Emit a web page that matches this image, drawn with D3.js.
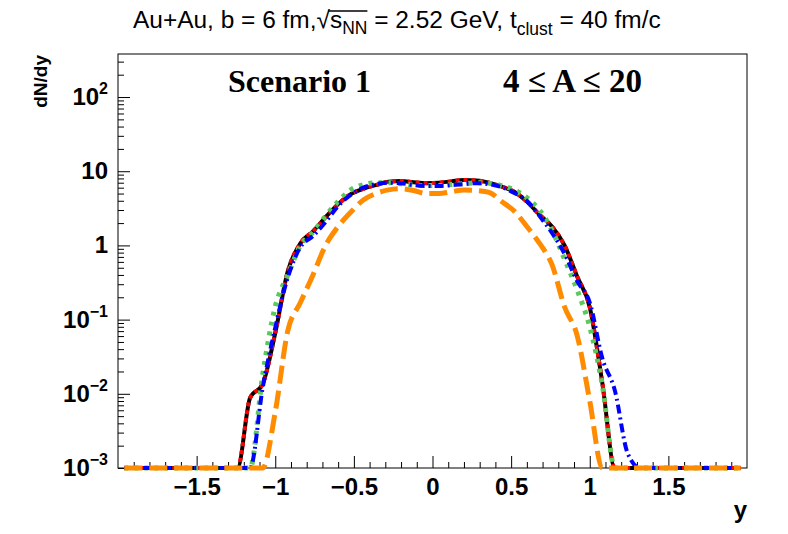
<!DOCTYPE html>
<html>
<head>
<meta charset="utf-8">
<script src="https://cdn.jsdelivr.net/npm/d3@7"></script>
<style>
    body { margin: 0; background: #fff; }
    svg { display: block; }
</style>
</head>
<body>
<svg id="chart" width="788" height="534"></svg>
<script>
// bin centres in rapidity
var rapidity = [-1.96, -1.88, -1.80, -1.72, -1.64, -1.56, -1.48, -1.40, -1.32, -1.24,
    -1.16, -1.08, -1.00, -0.92, -0.84, -0.76, -0.68, -0.60, -0.52, -0.44,
    -0.36, -0.28, -0.20, -0.12, -0.04, 0.04, 0.12, 0.20, 0.28, 0.36,
    0.44, 0.52, 0.60, 0.68, 0.76, 0.84, 0.92, 1.00, 1.08, 1.16,
    1.24, 1.32, 1.40, 1.48, 1.56, 1.64, 1.72, 1.80, 1.88, 1.96];

var blackValues = [0, 0, 0, 0, 0, 0, 0, 0, 0, 0,
    0.0088, 0.0136, 0.066, 0.45, 1.07, 1.55, 2.4, 3.6, 4.9, 5.8,
    6.5, 7.2, 7.4, 7.1, 6.9, 7.0, 7.3, 7.6, 7.5, 7.0,
    6.2, 5.3, 3.9, 2.6, 1.8, 1.0, 0.38, 0.147, 0.014, 0,
    0, 0, 0, 0, 0, 0, 0, 0, 0, 0];

var redValues = [0, 0, 0, 0, 0, 0, 0, 0, 0, 0,
    0.0088, 0.0136, 0.066, 0.45, 1.07, 1.55, 2.4, 3.6, 4.9, 5.8,
    6.5, 7.2, 7.4, 7.1, 6.9, 7.0, 7.3, 7.6, 7.5, 7.0,
    6.2, 5.3, 3.9, 2.6, 1.8, 1.0, 0.38, 0.147, 0.014, 0,
    0, 0, 0, 0, 0, 0, 0, 0, 0, 0];

var greenValues = [0, 0, 0, 0, 0, 0, 0, 0, 0, 0,
    0, 0.018, 0.15, 0.40, 1.0, 1.5, 2.5, 3.9, 5.6, 6.6,
    7.0, 7.0, 6.8, 6.5, 6.4, 6.4, 6.6, 6.8, 7.0, 6.9,
    6.4, 5.6, 4.4, 3.0, 1.6, 0.65, 0.25, 0.08, 0.013, 0,
    0, 0, 0, 0, 0, 0, 0, 0, 0, 0];

var blueValues = [0, 0, 0, 0, 0, 0, 0, 0, 0, 0,
    0, 0.012, 0.078, 0.37, 0.95, 1.34, 2.07, 3.4, 4.8, 6.0,
    6.7, 7.0, 6.9, 6.5, 6.3, 6.3, 6.5, 6.7, 6.9, 6.7,
    6.1, 5.1, 4.0, 2.5, 1.47, 0.77, 0.33, 0.17, 0.030, 0.011,
    0.0016, 0, 0, 0, 0, 0, 0, 0, 0, 0];

var orangeValues = [0, 0, 0, 0, 0, 0, 0, 0, 0, 0,
    0, 0, 0.0057, 0.071, 0.17, 0.4, 1.0, 1.8, 2.8, 4.1,
    5.0, 5.6, 5.8, 5.5, 5.0, 5.0, 5.3, 5.6, 5.5, 5.2,
    3.9, 2.9, 1.8, 1.07, 0.55, 0.148, 0.061, 0.008, 0, 0,
    0, 0, 0, 0, 0, 0, 0, 0, 0, 0];

var xTickValues = [-1.5, -1, -0.5, 0, 0.5, 1, 1.5];
var yTickValues = [1e-3, 1e-2, 1e-1, 1, 10, 100];
var yTickLabels = [["10", "\u22123"], ["10", "\u22122"], ["10", "\u22121"], ["1", ""], ["10", ""], ["10", "2"]];

var margin = { left: 118, right: 747, top: 54, bottom: 468 };
var yMin = 1e-3, yMax = Math.pow(10, 2.58);

var svg = d3.select("#chart");

var x = d3.scaleLinear().domain([-2, 2]).range([margin.left, margin.right]);
var y = d3.scaleLog().domain([yMin, yMax]).range([margin.bottom, margin.top]);

// minor ticks
var xMinor = d3.range(-20, 21).map(function(i) { return i / 10; })
    .filter(function(v) { return xTickValues.indexOf(v) < 0 && Math.abs(v) < 2; });
var yMinor = [];
[-3, -2, -1, 0, 1, 2].forEach(function(e) {
    for (var k = 2; k <= 9; k++) {
        var v = k * Math.pow(10, e);
        if (v <= yMax) yMinor.push(v);
    }
});

var sansBold = "'Liberation Sans', Arial, Helvetica, sans-serif";

svg.append("g")
    .attr("transform", "translate(0," + margin.bottom + ")")
    .call(d3.axisBottom(x).tickValues(xMinor).tickSize(-6).tickFormat(""))
    .call(function(g) { g.select(".domain").remove(); });

svg.append("g")
    .attr("class", "x-major")
    .attr("transform", "translate(0," + margin.bottom + ")")
    .call(d3.axisBottom(x).tickValues(xTickValues).tickSize(-12).tickPadding(10)
        .tickFormat(function(d) { return d3.format("")(d).replace("-", "\u2013"); }))
    .call(function(g) { g.select(".domain").remove(); })
    .selectAll("text")
    .attr("fill", "#000")
    .style("font-family", sansBold)
    .style("font-weight", "bold")
    .style("font-size", "24px");

svg.append("g")
    .attr("transform", "translate(" + margin.left + ",0)")
    .call(d3.axisLeft(y).tickValues(yMinor).tickSize(-6).tickFormat(""))
    .call(function(g) { g.select(".domain").remove(); });

svg.append("g")
    .attr("transform", "translate(" + margin.left + ",0)")
    .call(d3.axisLeft(y).tickValues(yTickValues).tickSize(-12).tickFormat(""))
    .call(function(g) { g.select(".domain").remove(); });

svg.selectAll(".tick line").attr("stroke", "#000").attr("stroke-width", 1);

// y labels with superscripts
var yLab = svg.append("g").selectAll("text")
    .data(yTickValues)
    .enter().append("text")
    .attr("x", 108)
    .attr("y", function(d) { return y(d) + 8; })
    .attr("text-anchor", "end")
    .style("font-family", sansBold)
    .style("font-weight", "bold")
    .style("font-size", "24px");
yLab.append("tspan").text(function(d, i) { return yTickLabels[i][0]; });
yLab.append("tspan")
    .attr("dy", -11)
    .style("font-size", "16px")
    .text(function(d, i) { return yTickLabels[i][1]; });

// frame
svg.append("rect")
    .attr("x", margin.left).attr("y", margin.top)
    .attr("width", margin.right - margin.left)
    .attr("height", margin.bottom - margin.top)
    .attr("fill", "none").attr("stroke", "#000").attr("stroke-width", 1);

var line = d3.line()
    .x(function(d) { return x(d[0]); })
    .y(function(d) { return y(Math.max(d[1], yMin)); })
    .curve(d3.curveMonotoneX);

function series(values) {
    return rapidity.map(function(r, i) { return [r, values[i]]; });
}

var curves = [
    { values: blackValues, color: "#000000", width: 4, dash: null },
    { values: redValues, color: "#ff0000", width: 4, dash: "4,4" },
    { values: greenValues, color: "#5ac85a", width: 5, dash: "4,6" },
    { values: blueValues, color: "#0000ff", width: 4, dash: "9,4,2,4" },
    { values: orangeValues, color: "#ff8c00", width: 5, dash: "18,7" }
];

svg.append("g").selectAll("path")
    .data(curves)
    .enter().append("path")
    .attr("d", function(c) { return line(series(c.values)); })
    .attr("fill", "none")
    .attr("stroke", function(c) { return c.color; })
    .attr("stroke-width", function(c) { return c.width; })
    .attr("stroke-dasharray", function(c) { return c.dash; });

// title, font size fitted to the width of the original title
var title = svg.append("text")
    .attr("x", 133).attr("y", 28)
    .style("font-family", "'Liberation Sans', Arial, Helvetica, sans-serif")
    .style("font-size", "21px");
title.append("tspan").text("Au+Au, b = 6 fm,");
title.append("tspan").text("\u221A");
title.append("tspan").text("s");
var subA = title.append("tspan").attr("dy", 6).style("font-size", "14px").text("NN");
title.append("tspan").attr("dy", -6).text(" = 2.52 GeV, t");
var subB = title.append("tspan").attr("dy", 7).style("font-size", "14px").text("clust");
title.append("tspan").attr("dy", -7).text(" = 40 fm/c");

var tn = title.node();
var k = 524 / tn.getComputedTextLength();
title.style("font-size", (21 * k) + "px");
subA.style("font-size", (15 * k) + "px");
subB.style("font-size", (15 * k) + "px");

var sq = tn.getExtentOfChar(16);
var nn = tn.getExtentOfChar(19);
svg.append("line")
    .attr("x1", sq.x + sq.width - 1.5).attr("x2", nn.x + nn.width)
    .attr("y1", 11).attr("y2", 11)
    .attr("stroke", "#000").attr("stroke-width", 1.3);

// labels inside the frame
svg.append("text")
    .attr("x", 228).attr("y", 92)
    .style("font-family", "'Liberation Serif', 'Times New Roman', serif")
    .style("font-weight", "bold")
    .style("font-size", "32px")
    .text("Scenario 1");
svg.append("text")
    .attr("x", 503).attr("y", 92)
    .style("font-family", "'Liberation Serif', 'Times New Roman', serif")
    .style("font-weight", "bold")
    .style("font-size", "33px")
    .text("4 \u2264 A \u2264 20");

// axis titles
svg.append("text")
    .attr("transform", "translate(47,55) rotate(-90)")
    .attr("text-anchor", "end")
    .style("font-family", sansBold)
    .style("font-weight", "bold")
    .style("font-size", "19px")
    .text("dN/dy");
svg.append("text")
    .attr("x", 747).attr("y", 518)
    .attr("text-anchor", "end")
    .style("font-family", sansBold)
    .style("font-weight", "bold")
    .style("font-size", "24px")
    .text("y");
</script>
</body>
</html>
